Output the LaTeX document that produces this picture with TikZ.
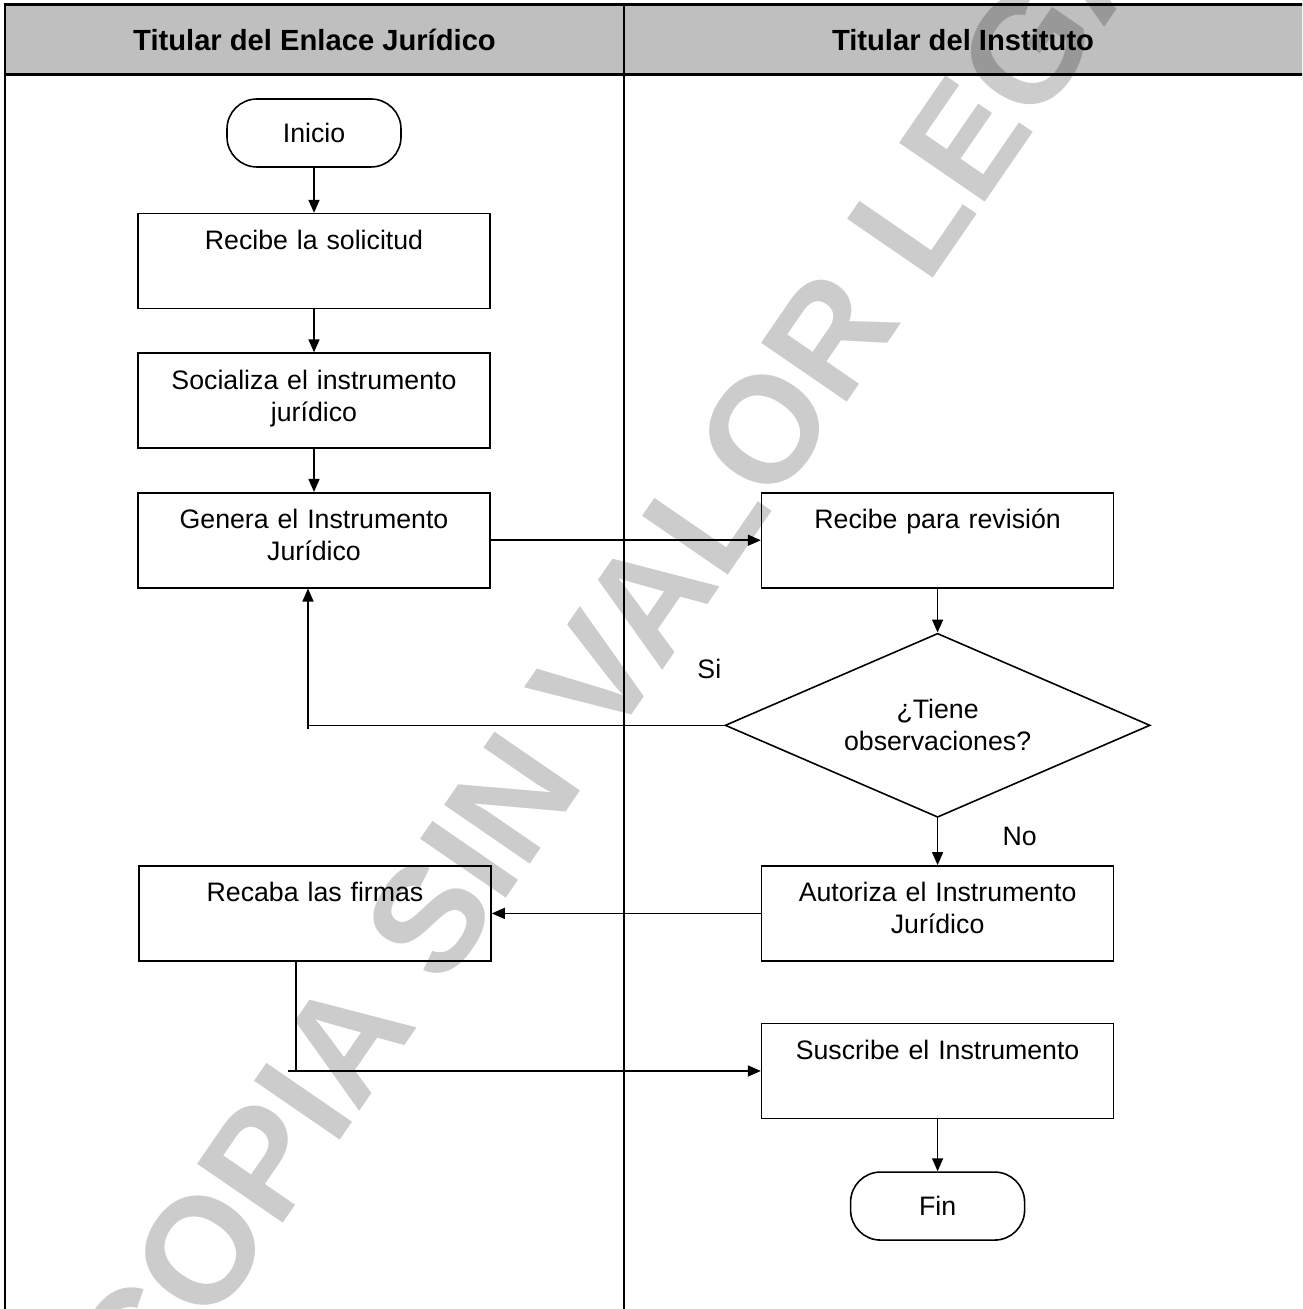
\documentclass[tikz,border=0pt]{standalone}
\usepackage{fontspec}
\setmainfont{Liberation Sans}
\usetikzlibrary{shapes.geometric,arrows.meta,positioning}

\begin{document}
\begin{tikzpicture}[
    node distance=0.44cm,
    every node/.style={font=\fontsize{7.6}{9.1}\selectfont},
    proc/.style={rectangle,draw,line width=0.45pt,text width=3.52cm,align=center,
                 inner sep=0pt,text height=0.36cm,text depth=0.59cm},
    term/.style={rectangle,draw,line width=0.45pt,rounded corners=0.3cm,
                 minimum width=1.74cm,minimum height=0.68cm},
    decision/.style={diamond,draw,line width=0.45pt,aspect=2.31,minimum width=4.25cm,
                     minimum height=1.84cm,inner sep=0pt,align=center},
    flow/.style={-{Triangle[length=0.13cm,width=0.11cm]},line width=0.45pt},
    head/.style={font=\fontsize{8.3}{10}\selectfont\bfseries},
]
\clip (0,0) rectangle (13.02,-13.09);

% lanes
\fill[black!25] (0.05,-0.05) rectangle (13.2,-0.75);
\draw[line width=0.85pt] (13.2,-0.05) -- (0.05,-0.05) -- (0.05,-13.2);
\draw[line width=0.85pt] (0.05,-0.75) -- (13.2,-0.75);
\draw[line width=0.6pt] (6.24,-0.05) -- (6.24,-13.2);
\node[head] (hjur) at (3.145,-0.40) {Titular del Enlace Jurídico};
\node[head] (hins) at (9.63,-0.40) {Titular del Instituto};

% steps
\node[term] (inicio) at (3.14,-1.33) {Inicio};
\node[proc,below=0.45cm of inicio] (recibe) {Recibe la solicitud};
\node[proc,below=0.43cm of recibe] (social) {Socializa el instrumento\\jurídico};
\node[proc,below=0.43cm of social] (genera) {Genera el Instrumento\\Jurídico};
\node[proc,right=2.70cm of genera] (revision) {Recibe para revisión};
\node[decision,below=0.44cm of revision] (obs) {¿Tiene\\observaciones?};
\node[proc,below=0.47cm of obs] (autoriza) {Autoriza el Instrumento\\Jurídico};
\node[proc,left=2.69cm of autoriza] (recaba) {Recaba las firmas};
\node[proc,below=0.61cm of autoriza] (suscribe) {Suscribe el Instrumento};
\node[term,below=0.52cm of suscribe] (fin) {Fin};

\node (si) at ([xshift=-0.15cm,yshift=0.56cm]obs.west) {Si};
\node (no) at ([xshift=0.82cm,yshift=-0.18cm]obs.south) {No};

% connectors
\draw[flow] (inicio) -- (recibe);
\draw[flow] (recibe) -- (social);
\draw[flow] (social) -- (genera);
\draw[flow] (genera) -- (revision);
\draw[flow] (revision) -- (obs);
\coordinate (c1) at ([xshift=-0.06cm]genera.south |- obs.west);
\draw[flow] (obs.west) -- (c1) -- ([xshift=-0.06cm]genera.south);
\draw[line width=0.45pt] (c1) -- ++(0,-0.04);
\draw[flow] (obs) -- (autoriza);
\draw[flow] (autoriza) -- (recaba);
\coordinate (c2) at ([xshift=-0.19cm]recaba.south |- suscribe.west);
\draw[flow] ([xshift=-0.19cm]recaba.south) -- (c2) -- (suscribe.west);
\draw[line width=0.45pt] (c2) -- ++(-0.08,0);
\draw[flow] (suscribe) -- (fin);

% watermark
\node[rotate=55.5,text=black,text opacity=0.2,font=\fontsize{43}{43}\selectfont\bfseries]
    (marca) at (6.40,-6.12) {COPIA SIN VALOR LEGAL};
\end{tikzpicture}
\end{document}
